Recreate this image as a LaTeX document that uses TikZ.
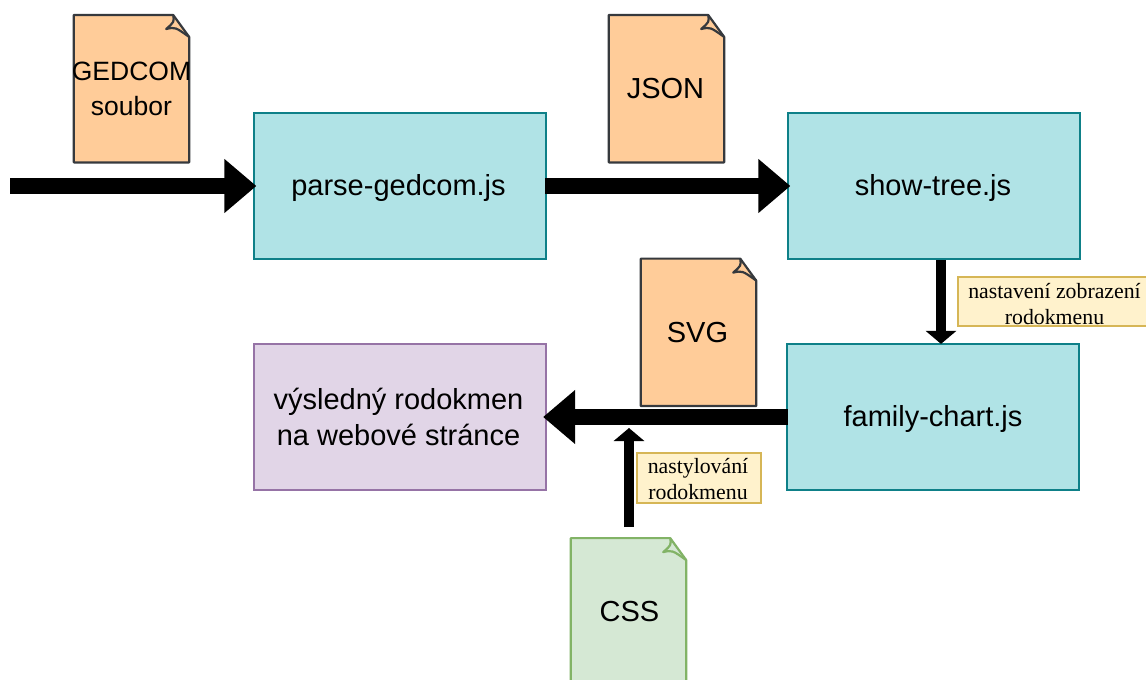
\documentclass[tikz,border=0pt]{standalone}
\usepackage{fontspec}
\setmainfont{Liberation Sans}
\newfontfamily\lblfont{Liberation Serif}
\usetikzlibrary{arrows.meta}
\definecolor{tealf}{HTML}{B0E3E6}\definecolor{teald}{HTML}{0E8088}
\definecolor{purf}{HTML}{E1D5E7}\definecolor{purd}{HTML}{9673A6}
\definecolor{orf}{HTML}{FFCC99}\definecolor{ord}{HTML}{36393D}
\definecolor{grf}{HTML}{D5E8D4}\definecolor{grd}{HTML}{82B366}
\definecolor{yef}{HTML}{FFF2CC}\definecolor{yed}{HTML}{D6B656}
\tikzset{
  base/.style={rectangle,draw,line width=2.2pt,inner sep=0pt,align=center,
    font=\fontsize{29}{36}\selectfont},
  procbox/.style={base,fill=tealf,draw=teald,minimum width=292pt,minimum height=146pt},
  resultbox/.style={base,fill=purf,draw=purd,minimum width=292pt,minimum height=146pt},
  docnode/.style={rectangle,inner sep=0pt,minimum width=115pt,minimum height=147pt},
  doctext/.style={rectangle,inner sep=0pt,align=center,font=\fontsize{29}{35}\selectfont},
  orangedoc/.style={fill=orf,draw=ord,line width=2.2pt,line join=round},
  greendoc/.style={fill=grf,draw=grd,line width=2.2pt,line join=round},
  lbl/.style={base,fill=yef,draw=yed},
  lbltext/.style={doctext,font=\lblfont\fontsize{21.8}{26}\selectfont},
  bigarrow/.style={line width=16pt,-{Triangle[length=32pt,width=52pt]}},
  smallarrow/.style={line width=10pt,-{Triangle[length=13pt,width=30pt]}}
}
\newcommand{\docshape}[5]{%
  % #1 style, #2 name, #3 center, #4 text position, #5 text
  \node[docnode] (#2) at (#3) {};
  \draw[#1] (#2.north west) -- ([xshift=-16pt]#2.north east)
    -- ([yshift=-22pt]#2.north east) -- (#2.south east) -- (#2.south west) -- cycle;
  \draw[#1,fill=none] ([xshift=-16pt]#2.north east)
    .. controls ([xshift=-15pt,yshift=-7pt]#2.north east) .. ([xshift=-23pt,yshift=-14pt]#2.north east)
    .. controls ([xshift=-14pt,yshift=-12pt]#2.north east) .. ([yshift=-22pt]#2.north east);
  \node[doctext] (#2text) at (#4) {#5};
}
\begin{document}
\begin{tikzpicture}[x=1pt,y=-1pt]
\useasboundingbox (0,0) rectangle (1146,680);
\clip (0,0) rectangle (1146,680);
\fill[white] (0,0) rectangle (1146,680);
\node[procbox] (parse) at (400,186) {};
\node[procbox] (show) at (934,186) {};
\node[procbox] (family) at (933,417) {};
\node[resultbox] (result) at (400,417) {};
\node[doctext] (parsetext) at (398.5,188) {parse-gedcom.js};
\node[doctext] (showtext) at (933,188) {show-tree.js};
\node[doctext] (familytext) at (933,418.5) {family-chart.js};
\node[doctext,font=\fontsize{29}{36}\selectfont] (resulttext) at (398.5,417) {výsledný rodokmen\\na webové stránce};
\docshape{orangedoc}{gedcom}{131.5,88.7}{131.5,88.5}{\fontsize{26.5}{35}\selectfont GEDCOM\\\fontsize{26.5}{35}\selectfont soubor}
\docshape{orangedoc}{json}{666.5,88.7}{665.5,89}{JSON}
\docshape{orangedoc}{svg}{698.5,332.3}{697.5,333}{SVG}
\docshape{greendoc}{css}{628.5,611.8}{629.5,612}{CSS}
\node[lbl,minimum width=190pt,minimum height=49pt] (lblset) at (1053,301.5) {};
\node[lbl,minimum width=124pt,minimum height=50pt] (lblcss) at (699,478) {};
\node[lbltext] (lblsettext) at (1054.5,304) {nastavení zobrazení\\rodokmenu};
\node[lbltext] (lblcsstext) at (698,479) {nastylování\\rodokmenu};
\coordinate (input) at (10,186);
\coordinate (csstip) at (629,428);
\draw[bigarrow,shorten >=-3.5pt] (input) -- (parse.west);
\draw[bigarrow,shorten >=-3.5pt,shorten <=-2pt] (parse.east) -- (show.west);
\draw[smallarrow,shorten >=-1pt] ([xshift=7pt]show.south) -- ([xshift=8pt]family.north);
\draw[bigarrow,shorten >=-4pt,shorten <=-2pt] (family.west) -- (result.east);
\draw[smallarrow,shorten <=11pt] (css.north -| csstip) -- (csstip);
\end{tikzpicture}
\end{document}
